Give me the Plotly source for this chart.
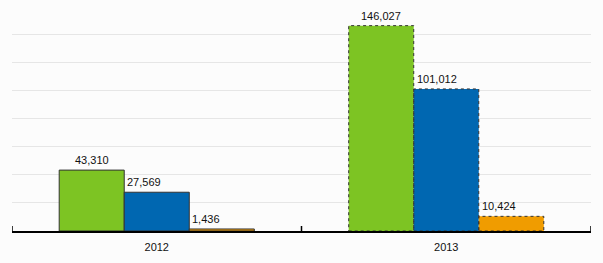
import plotly.graph_objects as go

years = ["2012", "2013"]
series_names = ["Series A", "Series B", "Series C"]
values_a = [43310, 146027]
values_b = [27569, 101012]
values_c = [1436, 10424]
series_values = [values_a, values_b, values_c]
colors = ["#7dc423", "#0067b1", "#f09c00"]
y_max = 160000
y_step = 20000

bargap = 0.326
n = len(series_values)
w = (1 - bargap) / n

fig = go.Figure()
for name, vals, col in zip(series_names, series_values, colors):
    fig.add_trace(go.Bar(
        x=years, y=vals, name=name,
        marker=dict(color=col, line=dict(color="#333333", width=[1, 0])),
    ))

annotations = []
shapes = []
for k, vals in enumerate(series_values):
    for i, v in enumerate(vals):
        xc = i + (k - (n - 1) / 2) * w
        if k == 0:
            annotations.append(dict(x=xc, y=v, xref="x", yref="y", text=f"{v:,}",
                                    showarrow=False, xanchor="center", yanchor="bottom",
                                    yshift=2, font=dict(size=11, color="#111111")))
        else:
            annotations.append(dict(x=xc - w / 2, y=v, xref="x", yref="y", text=f"{v:,}",
                                    showarrow=False, xanchor="left", yanchor="bottom",
                                    xshift=1, yshift=2, font=dict(size=11, color="#111111")))
        if i == 1:
            shapes.append(dict(type="rect", xref="x", yref="y",
                               x0=xc - w / 2, x1=xc + w / 2, y0=0, y1=v,
                               line=dict(color="#333333", width=1, dash="dot"),
                               fillcolor="rgba(0,0,0,0)", layer="above"))

# category boundary tick marks pointing up into the plot
for b in range(len(years) + 1):
    shapes.append(dict(type="line", xref="x", yref="y", x0=b - 0.5, x1=b - 0.5,
                       ysizemode="pixel", yanchor=0, y0=0, y1=5,
                       line=dict(color="#000000", width=1.5), layer="above"))

fig.update_layout(
    width=603, height=263,
    margin=dict(l=12, r=12, t=6, b=32),
    paper_bgcolor="#fcfcfc", plot_bgcolor="#fcfcfc",
    barmode="group", bargap=bargap, bargroupgap=0,
    showlegend=False,
    font=dict(family="Liberation Sans, Arial, sans-serif", size=11, color="#111111"),
    annotations=annotations, shapes=shapes,
    xaxis=dict(type="category", showline=True, linecolor="#000000", linewidth=1.5,
               ticks="", ticklabelstandoff=5, showgrid=False, range=[-0.5, 1.5],
               tickfont=dict(size=11, color="#111111")),
    yaxis=dict(range=[0, y_max], dtick=y_step, showticklabels=False,
               gridcolor="#e6e6e6", gridwidth=1, zeroline=False, fixedrange=True),
)

fig.write_html("out.html")
